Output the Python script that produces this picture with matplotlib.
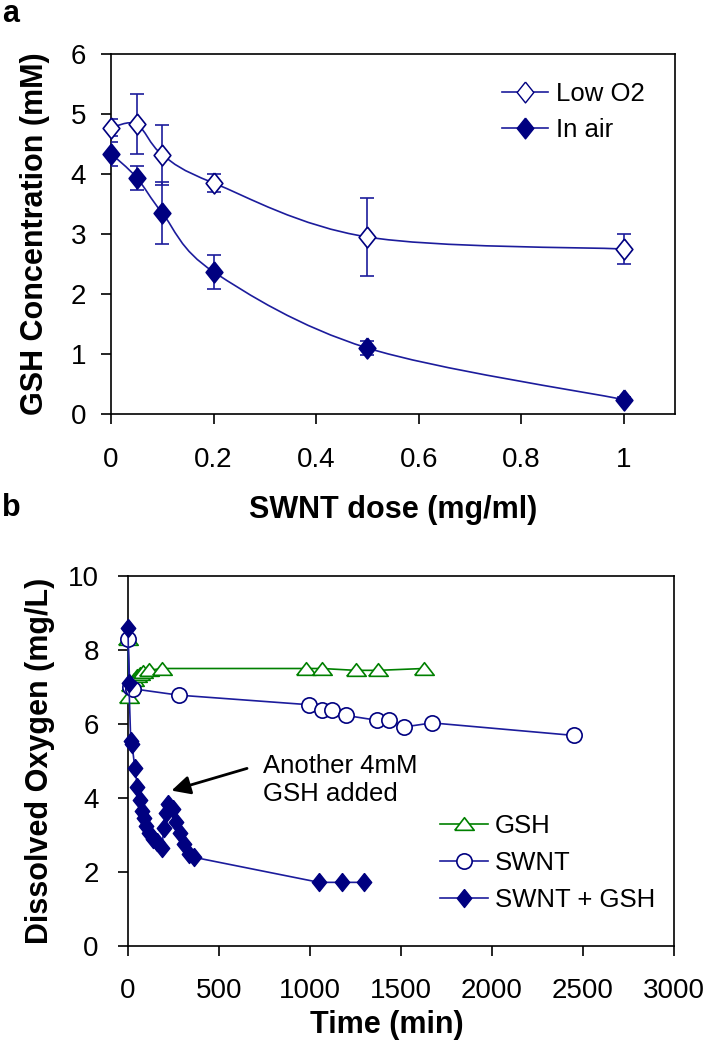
"""Two-panel figure: GSH depletion vs SWNT dose, and dissolved oxygen over time."""

import matplotlib

matplotlib.use("Agg")
import matplotlib.pyplot as plt
import numpy as np
from matplotlib.patches import PathPatch
from matplotlib.path import Path
from matplotlib.ticker import FormatStrFormatter

plt.rcParams["font.family"] = ["Liberation Sans", "DejaVu Sans"]

# ---- panel a data ----
dose = [0, 0.05, 0.1, 0.2, 0.5, 1.0]
low_o2 = [4.77, 4.83, 4.32, 3.85, 2.95, 2.75]
low_o2_err = [0.14, 0.5, 0.5, 0.15, 0.65, 0.25]
in_air = [4.34, 3.94, 3.35, 2.37, 1.10, 0.24]
in_air_err = [0.2, 0.2, 0.52, 0.28, 0.11, 0.04]

# ---- panel b data ----
gsh_t = [0, 5, 18, 32, 48, 64, 82, 115, 185, 980, 1065, 1250, 1375, 1625]
gsh_do = [8.3, 6.72, 7.05, 7.2, 7.3, 7.35, 7.4, 7.45, 7.5, 7.5, 7.5, 7.45, 7.45, 7.5]

swnt_t = [0, 10, 30, 278, 997, 1064, 1121, 1200, 1369, 1436, 1517, 1671, 2452]
swnt_do = [8.3, 7.0, 6.95, 6.78, 6.52, 6.37, 6.37, 6.23, 6.1, 6.1, 5.92, 6.03, 5.69]

mix_t = [0, 5, 15, 22, 38, 52, 64, 76, 88, 100, 115, 135, 160, 185,
         198, 210, 222, 245, 265, 285, 310, 335, 360, 1050, 1175, 1295]
mix_do = [8.6, 7.1, 5.55, 5.45, 4.8, 4.3, 3.95, 3.65, 3.45, 3.25, 3.05, 2.9, 2.8, 2.65,
          3.2, 3.6, 3.85, 3.7, 3.35, 3.05, 2.75, 2.5, 2.4, 1.72, 1.72, 1.72]

NAVY = "#000080"
LINE_BLUE = "#1c1c9c"
GREEN = "#008000"

W, H = 708, 1050

# squashed shapes, the original figure is compressed horizontally
DIAMOND = [(0, 1), (0.8, 0), (0, -1), (-0.8, 0), (0, 1)]
TRIANGLE = [(-1, -0.6), (1, -0.6), (0, 0.7), (-1, -0.6)]


def rect(left, top, right, bottom):
    return [left / W, 1 - bottom / H, (right - left) / W, (bottom - top) / H]


def smooth_path(x, y):
    """Catmull-Rom style bezier through the points, like a spreadsheet smoothed line."""
    pts = np.column_stack([x, y]).astype(float)
    verts = [pts[0]]
    codes = [Path.MOVETO]
    n = len(pts)
    for i in range(n - 1):
        p0 = pts[max(i - 1, 0)]
        p1 = pts[i]
        p2 = pts[i + 1]
        p3 = pts[min(i + 2, n - 1)]
        c1 = p1 + (p2 - p0) / 6.0
        c2 = p2 - (p3 - p1) / 6.0
        verts += [c1, c2, p2]
        codes += [Path.CURVE4] * 3
    return Path(verts, codes)


def style_axes(ax, ypad, xpad):
    for s in ax.spines.values():
        s.set_linewidth(1.2)
        s.set_color("black")
    ax.tick_params(direction="out", length=7, width=1.2, labelsize=20,
                   top=False, right=False)
    ax.tick_params(axis="y", pad=ypad)
    ax.tick_params(axis="x", pad=xpad)


fig = plt.figure(figsize=(W / 100, H / 100), dpi=100)

# ---------------- panel a ----------------
ax = fig.add_axes(rect(111, 54, 675, 414))
ax.set_xlim(0, 1.1)
ax.set_ylim(0, 6)
ax.set_xticks([0, 0.2, 0.4, 0.6, 0.8, 1.0])
ax.set_yticks(range(0, 7))
ax.xaxis.set_major_formatter(FormatStrFormatter("%g"))
style_axes(ax, ypad=11, xpad=17)

for yv in (low_o2, in_air):
    ax.add_patch(PathPatch(smooth_path(dose, yv), fill=False, lw=1.2,
                           edgecolor=LINE_BLUE, zorder=2))

ax.errorbar(dose, low_o2, yerr=low_o2_err, fmt="none", ecolor=LINE_BLUE,
            elinewidth=1.2, capsize=5, capthick=1.2, zorder=3)
ax.errorbar(dose, in_air, yerr=in_air_err, fmt="none", ecolor=LINE_BLUE,
            elinewidth=1.2, capsize=5, capthick=1.2, zorder=3)
ax.plot(dose, low_o2, ls="none", marker=DIAMOND, ms=15, mfc="white",
        mec=NAVY, mew=1.2, zorder=4, clip_on=False)
ax.plot(dose, in_air, ls="none", marker=DIAMOND, ms=15, mfc=NAVY,
        mec=NAVY, mew=1.2, zorder=4, clip_on=False)

# legend handles (line + marker)
h_low, = ax.plot([], [], color=LINE_BLUE, lw=1.2, marker=DIAMOND, ms=15,
                 mfc="white", mec=NAVY)
h_air, = ax.plot([], [], color=LINE_BLUE, lw=1.2, marker=DIAMOND, ms=15,
                 mfc=NAVY, mec=NAVY)
fig.legend([h_low, h_air], ["Low O2", "In air"], loc="center left",
           bbox_to_anchor=(502 / W, 1 - 112 / H), frameon=False, fontsize=18.5,
           borderpad=0, borderaxespad=0, handlelength=1.8, handletextpad=0.3,
           labelspacing=0.45)

ax.set_xlabel("SWNT dose (mg/ml)", fontsize=22, fontweight="bold", va="center")
ax.xaxis.set_label_coords(0.5, (414 - 510) / 360)
ax.set_ylabel("GSH Concentration (mM)", fontsize=22, fontweight="bold", va="center")
ax.yaxis.set_label_coords((35 - 111) / 564, 0.5)

# ---------------- panel b ----------------
bx = fig.add_axes(rect(128, 576, 674, 946))
bx.set_xlim(0, 3000)
bx.set_ylim(0, 10)
bx.set_xticks(range(0, 3001, 500))
bx.set_yticks(range(0, 11, 2))
style_axes(bx, ypad=14, xpad=16)

bx.plot(gsh_t, gsh_do, color=GREEN, lw=1.2, marker=TRIANGLE, ms=14,
        mfc="white", mec=GREEN, mew=1.2, label="GSH", zorder=3, clip_on=False)
bx.plot(swnt_t, swnt_do, color=LINE_BLUE, lw=1.2, marker="o", ms=11,
        mfc="white", mec=NAVY, mew=1.2, label="SWNT", zorder=4, clip_on=False)
bx.plot(mix_t, mix_do, color=LINE_BLUE, lw=1.2, marker=DIAMOND, ms=13,
        mfc=NAVY, mec=NAVY, mew=1.0, label="SWNT + GSH", zorder=5, clip_on=False)

bx.legend(loc="center left", bbox_to_anchor=(440 / W, 1 - 863 / H),
          bbox_transform=fig.transFigure, frameon=False, fontsize=18.5,
          borderpad=0, borderaxespad=0, handlelength=1.85, handletextpad=0.3,
          labelspacing=0.5)

bx.annotate("", xy=(239, 4.2), xytext=(654, 4.8),
            arrowprops=dict(arrowstyle="-|>", color="black", lw=2,
                            mutation_scale=28, shrinkA=0, shrinkB=0))
bx.text(742, 4.49, "Another 4mM\nGSH added", fontsize=18.5, ha="left",
        va="center", linespacing=1.2)

bx.set_xlabel("Time (min)", fontsize=22, fontweight="bold", va="center")
bx.xaxis.set_label_coords((387 - 128) / 546, (946 - 1025) / 370)
bx.set_ylabel("Dissolved Oxygen (mg/L)", fontsize=22, fontweight="bold", va="center")
bx.yaxis.set_label_coords((40 - 128) / 546, 0.5)

fig.text(2 / W, 1 - 14 / H, "a", fontsize=22, fontweight="bold", va="center")
fig.text(2 / W, 1 - 508 / H, "b", fontsize=22, fontweight="bold", va="center")

fig.savefig("out.png", dpi=100)
